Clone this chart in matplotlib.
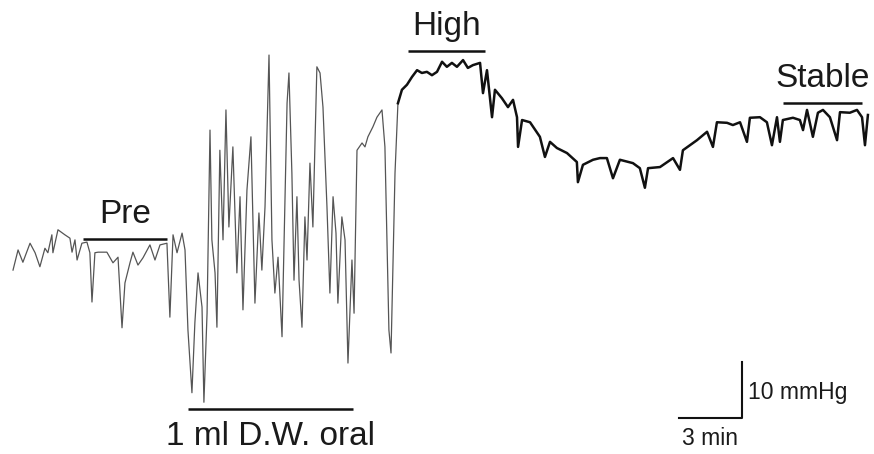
import numpy as np
import matplotlib
matplotlib.use("Agg")
import matplotlib.pyplot as plt

plt.rcParams['font.family'] = ['Liberation Sans', 'DejaVu Sans']

# blood pressure trace: time (min) and pressure (mmHg, relative)
time_min = [
    0.05, 0.29, 0.52, 0.86, 1.10, 1.33, 1.57, 1.71, 1.90, 1.95,
    2.19, 2.52, 2.76, 2.86, 3.00, 3.10, 3.33, 3.57, 3.71, 3.81,
    3.95, 4.10, 4.33, 4.52, 4.81, 5.05, 5.24, 5.38, 5.62, 5.76,
    6.00, 6.24, 6.57, 6.81, 7.05, 7.38, 7.52, 7.67, 7.86, 8.10,
    8.24, 8.38, 8.57, 8.71, 8.86, 9.05, 9.14, 9.29, 9.43, 9.52,
    9.67, 9.76, 9.90, 10.05, 10.19, 10.33, 10.52, 10.71, 10.86, 11.00,
    11.19, 11.38, 11.57, 11.76, 11.90, 12.05, 12.24, 12.38, 12.52, 12.67,
    12.86, 13.10, 13.19, 13.33, 13.43, 13.57, 13.67, 13.81, 13.95, 14.05,
    14.19, 14.33, 14.52, 14.67, 14.81, 15.00, 15.14, 15.29, 15.43, 15.52,
    15.71, 15.86, 16.00, 16.19, 16.29, 16.43, 16.67, 16.81, 16.95, 17.19,
    17.38, 17.62, 17.76, 17.95, 18.05, 18.24, 18.38, 18.57, 18.81, 19.05,
    19.29, 19.52, 19.76, 20.00, 20.24, 20.48, 20.71, 20.95, 21.19, 21.48,
    21.71, 21.95, 22.29, 22.43, 22.62, 22.86, 23.00, 23.33, 23.62, 23.86,
    24.05, 24.10, 24.29, 24.67, 25.14, 25.38, 25.62, 25.95, 26.43, 26.90,
    26.95, 27.19, 27.67, 28.00, 28.33, 28.62, 28.95, 29.57, 29.90, 30.14,
    30.29, 30.86, 31.48, 31.81, 31.95, 32.62, 33.10, 33.38, 33.57, 34.05,
    34.33, 34.67, 35.00, 35.14, 35.62, 35.95, 36.19, 36.43, 36.57, 36.71,
    37.19, 37.52, 37.67, 37.86, 38.14, 38.38, 38.62, 38.95, 39.29, 39.43,
    39.90, 40.24, 40.48, 40.62, 40.76,
]
pressure = [
    23.2, 26.8, 24.6, 28.0, 26.3, 23.8, 27.1, 26.3, 29.5, 26.3,
    30.4, 29.5, 28.9, 26.4, 28.6, 25.0, 28.0, 28.2, 26.3, 17.5,
    26.3, 26.4, 26.4, 26.4, 24.5, 25.5, 12.9, 20.9, 24.5, 26.4,
    24.1, 25.4, 27.7, 25.0, 27.7, 28.0, 14.8, 29.5, 26.3, 29.8,
    26.8, 12.5, 1.3, 13.8, 22.7, 16.6, -0.4, 15.5, 48.2, 28.6,
    22.7, 13.0, 44.6, 28.6, 51.8, 30.9, 45.2, 22.7, 36.3, 16.1,
    37.5, 47.0, 17.3, 33.4, 23.2, 34.5, 61.6, 28.6, 19.1, 25.5,
    11.3, 53.0, 58.4, 40.5, 21.4, 36.3, 21.4, 13.0, 32.7, 25.0,
    42.3, 30.9, 59.5, 58.4, 52.3, 34.5, 19.1, 36.3, 29.8, 17.3,
    32.7, 28.6, 6.6, 25.0, 15.5, 44.6, 45.9, 45.2, 47.0, 48.8,
    50.5, 51.8, 45.2, 12.5, 8.4, 40.5, 53.0, 55.4, 56.3, 57.7,
    58.9, 58.4, 58.6, 58.0, 58.6, 60.4, 59.5, 60.2, 59.5, 60.7,
    59.3, 59.8, 60.2, 54.8, 58.9, 50.5, 55.4, 53.9, 52.3, 53.6,
    50.5, 45.2, 50.0, 49.6, 47.0, 43.4, 46.1, 45.0, 44.1, 42.5,
    38.9, 42.0, 42.9, 43.2, 43.2, 39.6, 42.9, 42.3, 41.4, 37.9,
    41.4, 41.6, 43.2, 41.1, 44.6, 46.4, 47.9, 45.2, 49.6, 49.5,
    49.1, 49.6, 46.1, 50.4, 50.5, 49.6, 45.5, 50.5, 46.1, 50.0,
    50.4, 50.0, 48.2, 51.8, 47.0, 51.3, 51.8, 50.5, 46.4, 51.4,
    51.3, 51.8, 50.5, 45.5, 50.9,
]

# labelled periods: (label, start min, end min)
periods = [("Pre", 3.38, 7.38), ("High", 18.86, 22.52), ("Stable", 36.71, 40.48)]
period_levels = [28.75, 62.3, 53.0]
dose_label = "1 ml D.W. oral"
dose_span = (8.38, 16.24)

# scale bar sizes
bar_min = 3
bar_mmhg = 10

t = np.array(time_min)
p = np.array(pressure)

fig = plt.figure(figsize=(8.74, 4.54), dpi=100)
ax = fig.add_axes([0, 0, 1, 1])
ax.set_xlim(-0.57, 41.05)
ax.set_ylim(-9.64, 71.43)
ax.axis("off")

# thin grey during the oscillations, heavier once the pressure settles
fast = t <= 18.4
slow = t >= 18.38
ax.plot(t[fast], p[fast], color="#555555", lw=0.9)
ax.plot(t[slow], p[slow], color="#111111", lw=1.8)

for (label, t0, t1), lev in zip(periods, period_levels):
    ax.plot([t0, t1], [lev, lev], color="#111111", lw=1.8, solid_capstyle="butt")
    ax.text((t0 + t1) / 2, lev + 2.9, label, ha="center", va="baseline",
            fontsize=24, color="#1a1a1a")

ax.plot(dose_span, [-1.6, -1.6], color="#111111", lw=1.8, solid_capstyle="butt")
ax.text(sum(dose_span) / 2, -8.0, dose_label, ha="center", va="baseline",
        fontsize=24, color="#1a1a1a")

# scale bar
cx, cy = 34.76, -3.2
ax.plot([cx - bar_min, cx, cx], [cy, cy, cy + bar_mmhg], color="#111111", lw=1.5)
ax.text(cx + 0.3, cy + 4.6, f"{bar_mmhg} mmHg", ha="left", va="center",
        fontsize=16.5, color="#1a1a1a")
ax.text(cx - bar_min / 2, -6.8, f"{bar_min} min", ha="center", va="center",
        fontsize=16.5, color="#1a1a1a")

fig.savefig("out.png", dpi=100, facecolor="white")
